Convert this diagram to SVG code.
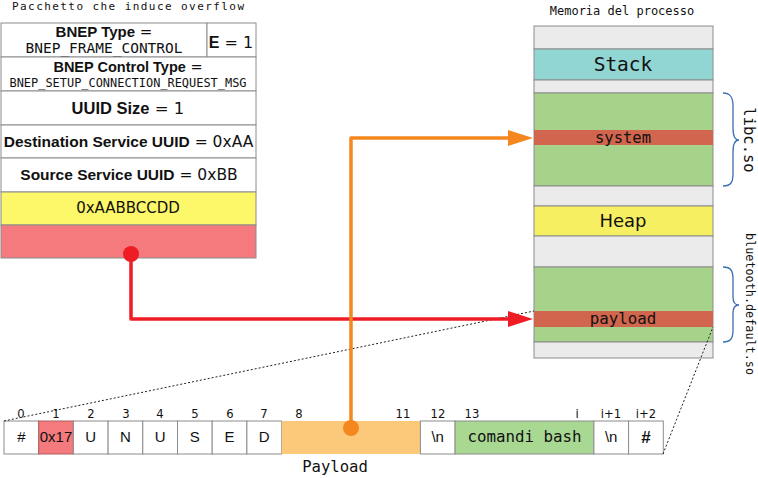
<svg xmlns="http://www.w3.org/2000/svg" width="758" height="478" viewBox="0 0 758 478">
<defs>
<style>
.cell{stroke:#8c8c8c;stroke-width:1}
.mono{font-family:"DejaVu Sans Mono","Liberation Mono",monospace;fill:#111}
.sans{font-family:"DejaVu Sans","Noto Sans",sans-serif;fill:#111}
.lib{font-family:"Liberation Sans",Arial,sans-serif;fill:#111}
.b{font-weight:bold}
.mid{text-anchor:middle}
.brace{fill:none;stroke:#3c6eb4;stroke-width:1.3}
.dot{fill:none;stroke:#222;stroke-width:1;stroke-dasharray:2,2}
</style>
<marker id="arrR" viewBox="0 -8 25 16" markerWidth="25" markerHeight="16" refX="0" refY="0" markerUnits="userSpaceOnUse" orient="auto"><path d="M0,-8 L25,0 L0,8 z" fill="#ee1d25"/></marker>
<marker id="arrO" viewBox="0 -8 25 16" markerWidth="25" markerHeight="16" refX="0" refY="0" markerUnits="userSpaceOnUse" orient="auto"><path d="M0,-8 L25,0 L0,8 z" fill="#f5871f"/></marker>
</defs>
<rect width="758" height="478" fill="#fff"/>

<g id="packet">
<text class="mono" x="128" y="10" font-size="11" textLength="232" lengthAdjust="spacing" text-anchor="middle">Pacchetto che induce overflow</text>
<rect class="cell" x="1" y="23" width="206" height="34" fill="#fff"/>
<rect class="cell" x="207" y="23" width="49" height="34" fill="#fff"/>
<text class="lib mid" x="104" y="37" font-size="15"><tspan class="b">BNEP Type</tspan><tspan class="sans"> =</tspan></text>
<text class="mono mid" x="104" y="53" font-size="14" textLength="157" lengthAdjust="spacingAndGlyphs">BNEP_FRAME_CONTROL</text>
<text class="lib mid" x="231" y="48" font-size="16"><tspan class="b">E</tspan><tspan class="sans"> = 1</tspan></text>
<rect class="cell" x="1" y="57" width="255" height="34" fill="#fff"/>
<text class="lib mid" x="128" y="72" font-size="14.5"><tspan class="b">BNEP Control Type</tspan><tspan class="sans"> =</tspan></text>
<text class="mono mid" x="128" y="86.5" font-size="12" textLength="237" lengthAdjust="spacingAndGlyphs">BNEP_SETUP_CONNECTION_REQUEST_MSG</text>
<rect class="cell" x="1" y="91" width="255" height="34" fill="#fff"/>
<text class="lib mid" x="128" y="114" font-size="16.5"><tspan class="b">UUID Size</tspan><tspan class="sans"> = 1</tspan></text>
<rect class="cell" x="1" y="125" width="255" height="33" fill="#fff"/>
<text class="lib mid" x="128.5" y="147" font-size="15.5"><tspan class="b">Destination Service UUID</tspan><tspan class="sans"> = 0xAA</tspan></text>
<rect class="cell" x="1" y="158" width="255" height="34" fill="#fff"/>
<text class="lib mid" x="129" y="180" font-size="15.5"><tspan class="b">Source Service UUID</tspan><tspan class="sans"> = 0xBB</tspan></text>
<rect class="cell" x="1" y="192" width="255" height="33" fill="#fdf76a"/>
<text class="sans mid" x="128" y="213" font-size="15">0xAABBCCDD</text>
<rect class="cell" x="1" y="225" width="255" height="33" fill="#f47a7d"/>
</g>

<g id="memory">
<text class="mono mid" x="622" y="15" font-size="12">Memoria del processo</text>
<rect class="cell" x="534" y="26" width="179" height="23" fill="#ebebeb"/>
<rect class="cell" x="534" y="49" width="179" height="31" fill="#92d6d3"/>
<text class="mono mid" x="623" y="71" font-size="19.5">Stack</text>
<rect class="cell" x="534" y="80" width="179" height="13" fill="#ebebeb"/>
<rect class="cell" x="534" y="93" width="179" height="93" fill="#a6d28a"/>
<rect x="534" y="130" width="179" height="15" fill="#d2654d"/>
<text class="mono mid" x="623" y="143" font-size="15.5">system</text>
<rect class="cell" x="534" y="186" width="179" height="20" fill="#ebebeb"/>
<rect class="cell" x="534" y="206" width="179" height="30" fill="#f7ef62"/>
<text class="sans mid" x="623" y="227" font-size="18">Heap</text>
<rect class="cell" x="534" y="236" width="179" height="31" fill="#ebebeb"/>
<rect class="cell" x="534" y="267" width="179" height="75" fill="#a6d28a"/>
<rect x="534" y="311" width="179" height="16" fill="#d2654d"/>
<text class="mono mid" x="623" y="324" font-size="15.8">payload</text>
<rect class="cell" x="534" y="342" width="179" height="16" fill="#ebebeb"/>
</g>

<g id="libc">
<path class="brace" d="M723,93 C731,93 733,98 733,106 L733,128 C733,136 735,140 739,140 C735,140 733,144 733,152 L733,174 C733,182 731,186 723,186"/>
<text class="mono mid" transform="translate(744,140) rotate(90)" font-size="15.5">libc.so</text>
</g>
<g id="bluetooth">
<path class="brace" d="M723,267 C731,267 733,271 733,279 L733,297 C733,302 735,305 739,305 C735,305 733,308 733,313 L733,330 C733,338 731,342 723,342"/>
<text class="mono mid" transform="translate(745.5,304) rotate(90)" font-size="11.8">bluetooth.default.so</text>
</g>

<g id="payload">
<g class="sans" font-size="11.6" text-anchor="middle">
<text x="21" y="418">0</text><text x="56" y="418">1</text><text x="91" y="418">2</text><text x="126" y="418">3</text>
<text x="160" y="418">4</text><text x="195" y="418">5</text><text x="230" y="418">6</text><text x="264" y="418">7</text>
<text x="299" y="418">8</text><text x="403" y="418">11</text><text x="438" y="418">12</text><text x="472" y="418">13</text>
<text x="577" y="418">i</text><text x="611" y="418">i+1</text><text x="646" y="418">i+2</text>
</g>
<rect class="cell" x="4" y="421" width="34.7" height="33" fill="#fff"/>
<rect x="38.7" y="421" width="34.7" height="33" fill="#f47a7d" stroke="#b06060" stroke-width="1"/>
<rect class="cell" x="73.4" y="421" width="34.7" height="33" fill="#fff"/>
<rect class="cell" x="108.1" y="421" width="34.7" height="33" fill="#fff"/>
<rect class="cell" x="142.8" y="421" width="34.7" height="33" fill="#fff"/>
<rect class="cell" x="177.5" y="421" width="34.7" height="33" fill="#fff"/>
<rect class="cell" x="212.2" y="421" width="34.7" height="33" fill="#fff"/>
<rect class="cell" x="246.9" y="421" width="34.7" height="33" fill="#fff"/>
<rect x="281.6" y="421" width="138.8" height="33" fill="#fcc97b"/>
<rect class="cell" x="420.4" y="421" width="34.7" height="33" fill="#fff"/>
<rect class="cell" x="455.1" y="421" width="138.8" height="33" fill="#a9d893"/>
<rect class="cell" x="593.9" y="421" width="34.7" height="33" fill="#fff"/>
<rect class="cell" x="628.6" y="421" width="34.7" height="33" fill="#fff"/>
<g class="lib" font-size="15" text-anchor="middle">
<text x="21.3" y="442">#</text><text x="56" y="442">0x17</text><text x="90.7" y="442">U</text><text x="125.4" y="442">N</text>
<text x="160.1" y="442">U</text><text x="194.8" y="442">S</text><text x="229.5" y="442">E</text><text x="264.2" y="442">D</text>
<text x="437.7" y="442">\n</text><text x="611.2" y="442">\n</text><text x="646" y="443" font-weight="bold" font-size="17">#</text>
</g>
<text class="mono mid" x="524.5" y="442" font-size="15.8">comandi bash</text>
<text class="mono mid" x="335" y="472" font-size="15.6">Payload</text>
</g>

<g id="connectors">
<path class="dot" d="M4,421 L534,311"/>
<path class="dot" d="M663,454 L713,327"/>
<path d="M131,254 V319 H508" fill="none" stroke="#ee1d25" stroke-width="3.5" stroke-linejoin="round" marker-end="url(#arrR)"/>
<circle cx="131" cy="254" r="8" fill="#ee1d25"/>
<path d="M351,428 V138 H508" fill="none" stroke="#f5871f" stroke-width="3.5" stroke-linejoin="round" marker-end="url(#arrO)"/>
<circle cx="351" cy="428" r="8" fill="#f5871f"/>
</g>
</svg>
